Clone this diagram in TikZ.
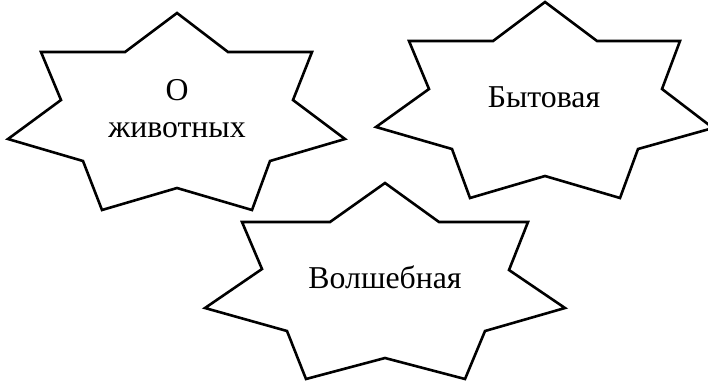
\documentclass[tikz,border=0pt]{standalone}
\usepackage{fontspec}
\setmainfont{Liberation Serif}
\begin{document}
\begin{tikzpicture}[x=1pt,y=-1pt,
  starshape/.style={draw=black,fill=white,line width=2.6pt,line join=miter},
  lbl/.style={font=\fontsize{31.8}{37}\selectfont,inner sep=0pt,align=center}]
\useasboundingbox (0,0) rectangle (708,381);
% star 1
\draw[starshape] (177,13) -- (228,52) -- (312,52) -- (293,100) -- (345,139) -- (270,161) -- (252,210) -- (177,188) -- (102,210) -- (83,161) -- (8,139) -- (61,100) -- (41,52) -- (125,52) -- cycle;
% star 2
\draw[starshape] (545,2) -- (597,41) -- (680,41) -- (662,89) -- (713,128) -- (638,149) -- (620,198) -- (545,176) -- (470,198) -- (452,149) -- (376,127) -- (429,89) -- (409,41) -- (493,41) -- cycle;
% star 3
\draw[starshape] (385,183) -- (439,222) -- (528,222) -- (509,270) -- (565,308) -- (485,331) -- (465,379) -- (385,358) -- (306,379) -- (287,331) -- (205,308) -- (262,269) -- (242,222) -- (330,222) -- cycle;
\node[lbl,anchor=base] (animals) at (177,137) {О\\животных};
\node[lbl,anchor=base] (household) at (544,107) {Бытовая};
\node[lbl,anchor=base] (magic) at (385,288) {Волшебная};
\end{tikzpicture}
\end{document}
